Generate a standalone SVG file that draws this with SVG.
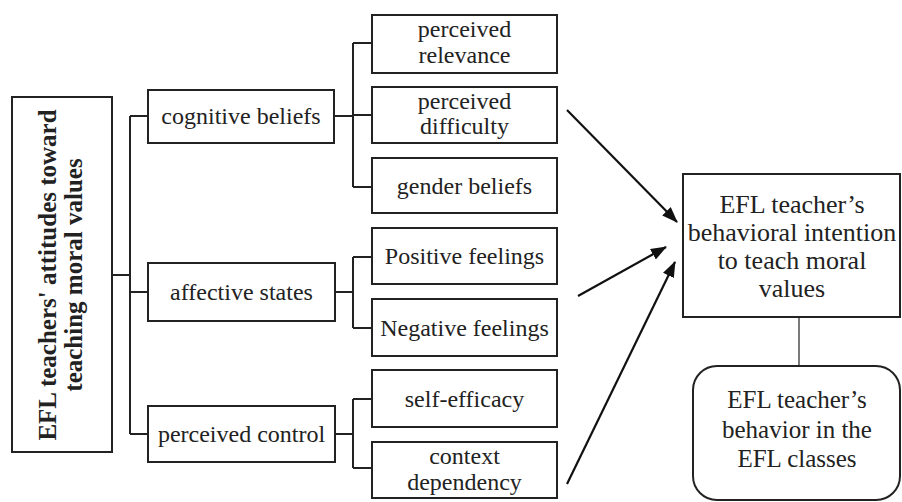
<svg xmlns="http://www.w3.org/2000/svg" width="902" height="502" viewBox="0 0 902 502">
<style>
.box{fill:#fff;stroke:#222;stroke-width:2}
.t{font-family:"Liberation Serif","Times New Roman",serif;font-size:24px;fill:#222;text-anchor:middle}
.tb{font-family:"Liberation Serif","Times New Roman",serif;font-size:25px;font-weight:bold;fill:#222;text-anchor:middle}
.ln{fill:none;stroke:#222;stroke-width:2}
.thin{fill:none;stroke:#222;stroke-width:1.2}
.arr{fill:none;stroke:#111;stroke-width:2.2;marker-end:url(#ah)}
</style>
<defs>
<marker id="ah" markerWidth="16" markerHeight="12" refX="15" refY="6" orient="auto" markerUnits="userSpaceOnUse">
<path d="M0,0 L16,6 L0,12 Z" fill="#111"/>
</marker>
</defs>
<rect width="902" height="502" fill="#fff"/>

<g id="connectors">
<path class="ln" d="M112,275 H130 M130,116 V434 M130,116 H148 M130,292 H148 M130,434 H148"/>
<path class="ln" d="M334,116 H353 M353,43 V187 M353,43 H372 M353,115 H372 M353,187 H372"/>
<path class="ln" d="M335,292 H353 M353,257 V328 M353,257 H372 M353,328 H372"/>
<path class="ln" d="M335,434 H353 M353,399 V468 M353,399 H372 M353,468 H372"/>
<path class="arr" d="M567,110 L677,222"/>
<path class="arr" d="M578,296 L666,247"/>
<path class="arr" d="M567,484 L675,262"/>
<path class="thin" d="M799,317 V366"/>
</g>

<g id="attitudes">
<rect class="box" x="12" y="97" width="100" height="355"/>
<text class="tb" transform="translate(56,275) rotate(-90)">EFL teachers' attitudes toward</text>
<text class="tb" transform="translate(82,275) rotate(-90)">teaching moral values</text>
</g>

<g id="cognitive">
<rect class="box" x="148" y="90" width="186" height="53"/>
<text class="t" x="241" y="124">cognitive beliefs</text>
</g>
<g id="affective">
<rect class="box" x="148" y="263" width="187" height="58"/>
<text class="t" x="241.5" y="300">affective states</text>
</g>
<g id="control">
<rect class="box" x="148" y="406" width="187" height="56"/>
<text class="t" x="241.5" y="442">perceived control</text>
</g>

<g id="relevance">
<rect class="box" x="372" y="15" width="185" height="58"/>
<text class="t" x="464.5" y="37">perceived</text>
<text class="t" x="464.5" y="63">relevance</text>
</g>
<g id="difficulty">
<rect class="box" x="372" y="87" width="185" height="56"/>
<text class="t" x="464.5" y="109">perceived</text>
<text class="t" x="464.5" y="134">difficulty</text>
</g>
<g id="gender">
<rect class="box" x="372" y="158" width="185" height="55"/>
<text class="t" x="464.5" y="194">gender beliefs</text>
</g>
<g id="positive">
<rect class="box" x="372" y="228" width="185" height="56"/>
<text class="t" x="464.5" y="264">Positive feelings</text>
</g>
<g id="negative">
<rect class="box" x="372" y="299" width="185" height="57"/>
<text class="t" x="464.5" y="336">Negative feelings</text>
</g>
<g id="selfefficacy">
<rect class="box" x="372" y="370" width="185" height="57"/>
<text class="t" x="464.5" y="407">self-efficacy</text>
</g>
<g id="context">
<rect class="box" x="372" y="442" width="185" height="56"/>
<text class="t" x="464.5" y="464">context</text>
<text class="t" x="464.5" y="490">dependency</text>
</g>

<g id="intention">
<rect class="box" x="683" y="174" width="217" height="143"/>
<text class="t" style="font-size:26px" x="792" y="213">EFL teacher’s</text>
<text class="t" style="font-size:26px" x="792" y="241">behavioral intention</text>
<text class="t" style="font-size:26px" x="792" y="269">to teach moral</text>
<text class="t" style="font-size:26px" x="792" y="297">values</text>
</g>

<g id="behavior">
<rect class="box" x="693" y="366" width="207" height="134" rx="24"/>
<text class="t" style="font-size:25px" x="797" y="408">EFL teacher’s</text>
<text class="t" style="font-size:25px" x="797" y="438">behavior in the</text>
<text class="t" style="font-size:25px" x="797" y="467">EFL classes</text>
</g>
</svg>
